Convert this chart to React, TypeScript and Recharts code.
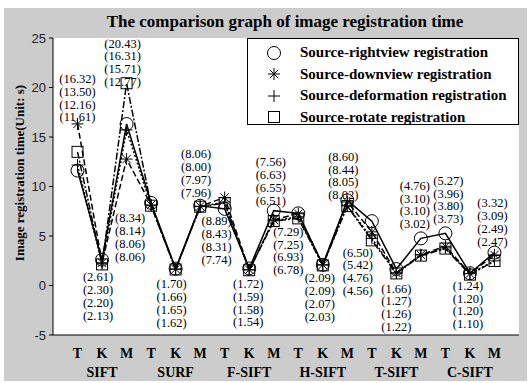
import React from 'react';
import { LineChart, Line, XAxis, YAxis, CartesianGrid, Legend, LabelList } from 'recharts';

// tick labels under each point, and the method names under every middle one
const letters = ['T', 'K', 'M', 'T', 'K', 'M', 'T', 'K', 'M', 'T', 'K', 'M', 'T', 'K', 'M', 'T', 'K', 'M'];
const groups = ['SIFT', 'SURF', 'F-SIFT', 'H-SIFT', 'T-SIFT', 'C-SIFT'];
const yTicks = [-5, 0, 5, 10, 15, 20, 25];

// registration time (s)
const rightview = [11.61, 2.61, 16.31, 8.34, 1.7, 8.06, 7.74, 1.72, 7.56, 7.29, 2.09, 8.6, 6.5, 1.66, 4.76, 5.27, 1.24, 3.32];
const downview = [16.32, 2.3, 12.77, 8.14, 1.66, 8.0, 8.89, 1.59, 6.63, 7.25, 2.09, 8.44, 5.42, 1.27, 3.1, 3.96, 1.2, 3.09];
const deformation = [12.16, 2.2, 15.71, 8.06, 1.65, 7.97, 8.43, 1.58, 6.55, 6.93, 2.07, 8.05, 4.76, 1.26, 3.1, 3.8, 1.2, 2.49];
const rotate = [13.5, 2.13, 20.43, 8.06, 1.62, 7.96, 8.31, 1.54, 6.51, 6.78, 2.03, 8.02, 4.56, 1.22, 3.02, 3.73, 1.1, 2.47];

const seriesNames = [
  'Source-rightview registration',
  'Source-downview registration',
  'Source-deformation registration',
  'Source-rotate registration',
];

const data = letters.map((l, i) => ({
  x: i + 1,
  rightview: rightview[i],
  downview: downview[i],
  deformation: deformation[i],
  rotate: rotate[i],
}));

// where each block of value labels sits, relative to the circle point (px)
const blockOffset = [
  [0, -92], [-4, 17], [-4, -81], [-21, 15], [-4, 15], [-4, -52],
  [-8, 12], [-1, 15], [-3, -49], [-10, 18], [-3, 13], [-4, -44],
  [-14, 31], [0, 19], [-6, -53], [3, -53], [-2, 12], [-2, -50],
];

const serif = '"Liberation Serif", "Times New Roman", serif';

const Marker = ({ kind, cx, cy }: { kind: string; cx: number; cy: number }) => {
  if (cx == null || cy == null) return <g />;
  const s = { stroke: '#000', strokeWidth: 1, fill: 'none' };
  if (kind === 'circle') return <circle cx={cx} cy={cy} r={6.5} {...s} />;
  if (kind === 'square') return <rect x={cx - 5.5} y={cy - 5.5} width={11} height={11} {...s} />;
  if (kind === 'plus')
    return (
      <path d={`M${cx - 6},${cy}H${cx + 6}M${cx},${cy - 6}V${cy + 6}`} {...s} />
    );
  const d = 4.2;
  return (
    <path
      d={`M${cx - 6},${cy}H${cx + 6}M${cx},${cy - 6}V${cy + 6}M${cx - d},${cy - d}L${cx + d},${cy + d}M${cx - d},${cy + d}L${cx + d},${cy - d}`}
      {...s}
    />
  );
};

const kinds = ['circle', 'star', 'plus', 'square'];

const ValueBlock = (props: any) => {
  const { x, y, index } = props;
  if (x == null || y == null) return null;
  const vals = [rightview[index], downview[index], deformation[index], rotate[index]].sort((a, b) => b - a);
  const [dx, dy] = blockOffset[index];
  return (
    <g>
      {vals.map((v, k) => (
        <text
          key={k}
          x={x + dx}
          y={y + dy + k * 12.8}
          dy={4.5}
          textAnchor="middle"
          fontFamily={serif}
          fontSize={12.5}
          fill="#000"
        >
          {`(${v.toFixed(2)})`}
        </text>
      ))}
    </g>
  );
};

const XTick = (props: any) => {
  const { x, y, payload } = props;
  const i = payload.value - 1;
  return (
    <g>
      <text x={x} y={y + 23} textAnchor="middle" fontFamily={serif} fontWeight="bold" fontSize={14} fill="#000">
        {letters[i]}
      </text>
      {i % 3 === 1 && (
        <text x={x} y={y + 42} textAnchor="middle" fontFamily={serif} fontWeight="bold" fontSize={14} fill="#000">
          {groups[(i - 1) / 3]}
        </text>
      )}
    </g>
  );
};

const LegendBox = () => (
  <div
    style={{
      width: 272,
      height: 87,
      boxSizing: 'border-box',
      border: '1px solid #000',
      background: '#fff',
      paddingTop: 3,
    }}
  >
    {seriesNames.map((n, i) => (
      <div key={n} style={{ display: 'flex', alignItems: 'center', height: 21.5 }}>
        <svg width={52} height={20}>
          <Marker kind={kinds[i]} cx={26} cy={10} />
        </svg>
        <span style={{ fontFamily: serif, fontWeight: 'bold', fontSize: 15, color: '#000' }}>{n}</span>
      </div>
    ))}
  </div>
);

const App: React.FC = () => {
  const keys = ['rightview', 'downview', 'deformation', 'rotate'];
  const dashes = [undefined, '6 3', '2 2', '7 2 2 2'];
  return (
    <div style={{ position: 'absolute', left: 0, top: 0, width: 530, height: 383, background: '#fff' }}>
      <div style={{ position: 'absolute', left: 4, top: 8, width: 523, height: 373, background: '#cccccc' }} />
      <div
        style={{
          position: 'absolute',
          left: 0,
          top: 12,
          width: 570,
          textAlign: 'center',
          fontFamily: serif,
          fontWeight: 'bold',
          fontSize: 17,
          color: '#000',
        }}
      >
        The comparison graph of image registration time
      </div>
      <div
        style={{
          position: 'absolute',
          left: 20,
          top: 173,
          transform: 'translate(-50%, -50%) rotate(-90deg)',
          whiteSpace: 'nowrap',
          fontFamily: serif,
          fontWeight: 'bold',
          fontSize: 13,
          color: '#000',
        }}
      >
        Image registration time(Unit: s)
      </div>
      <div style={{ position: 'absolute', left: 0, top: 0 }}>
        <LineChart width={530} height={383} data={data} margin={{ top: 38, right: 11, bottom: 0, left: 0 }}>
          <CartesianGrid horizontal={false} vertical={false} fill="#fff" />
          <XAxis
            dataKey="x"
            type="number"
            domain={[0, 19]}
            ticks={data.map((d) => d.x)}
            interval={0}
            height={48}
            tickSize={0}
            tickMargin={0}
            axisLine={{ stroke: '#000', strokeWidth: 1 }}
            tick={<XTick />}
          />
          <YAxis
            type="number"
            domain={[-5, 25]}
            ticks={yTicks}
            width={53}
            tickSize={4}
            tickMargin={3}
            axisLine={{ stroke: '#000', strokeWidth: 1 }}
            tickLine={{ stroke: '#000' }}
            tick={{ fontFamily: '"Liberation Sans", Arial, sans-serif', fontSize: 13, fill: '#222' }}
          />
          <YAxis
            yAxisId="r"
            orientation="right"
            type="number"
            domain={[-5, 25]}
            ticks={yTicks}
            width={0}
            mirror
            tickSize={4}
            axisLine={false}
            tickLine={{ stroke: '#000' }}
            tick={() => <g />}
          />
          <Legend
            layout="vertical"
            align="center"
            verticalAlign="middle"
            content={<LegendBox />}
            wrapperStyle={{ position: 'absolute', left: 247, top: 38, width: 272, height: 87 }}
          />
          {keys.map((k, i) => (
            <Line
              key={k}
              dataKey={k}
              name={seriesNames[i]}
              stroke="#000"
              strokeWidth={1.5}
              strokeDasharray={dashes[i]}
              isAnimationActive={false}
              dot={(p: any) => <Marker key={`${k}-${p.index}`} kind={kinds[i]} cx={p.cx} cy={p.cy} />}
            >
              {i === 0 && <LabelList dataKey={k} content={<ValueBlock />} />}
            </Line>
          ))}
        </LineChart>
      </div>
    </div>
  );
};

export default App;
